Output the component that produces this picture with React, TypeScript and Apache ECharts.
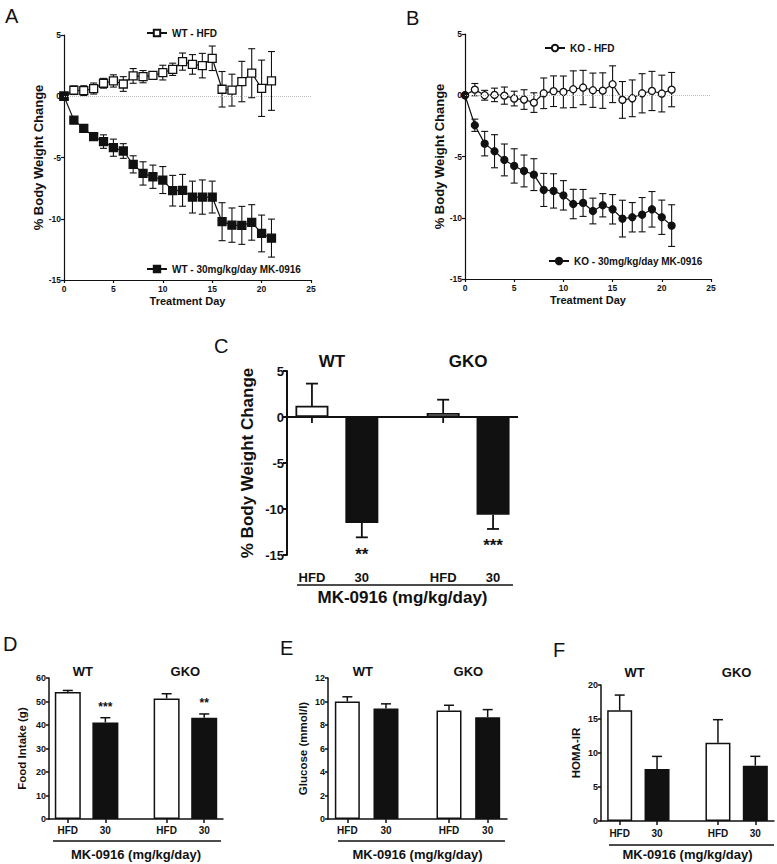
import React, { useEffect, useRef } from 'react';
import * as echarts from 'echarts';

// ---------- Data ----------
const days = [0, 1, 2, 3, 4, 5, 6, 7, 8, 9, 10, 11, 12, 13, 14, 15, 16, 17, 18, 19, 20, 21];

const wtHfd = [0, 0.49, 0.46, 0.63, 1.06, 1.25, 1.0, 1.66, 1.6, 1.7, 1.93, 2.2, 2.83, 2.6, 2.5, 3.1, 0.57, 0.5, 1.2, 1.88, 0.65, 1.25];
const wtHfdSem = [0, 0.35, 0.4, 0.45, 0.4, 0.5, 0.6, 0.6, 0.5, 0.3, 0.6, 0.5, 0.7, 0.8, 1.0, 1.0, 1.45, 1.3, 1.65, 2.0, 2.3, 2.4];
const wtMk = [0, -1.95, -2.62, -3.3, -3.7, -4.2, -4.47, -5.56, -6.3, -6.57, -6.84, -7.71, -7.68, -8.23, -8.23, -8.23, -10.24, -10.52, -10.54, -10.3, -11.2, -11.58];
const wtMkSem = [0, 0.15, 0.2, 0.3, 0.55, 0.7, 0.6, 0.7, 0.95, 0.95, 1.1, 1.25, 1.3, 1.3, 1.4, 1.3, 1.55, 1.4, 1.55, 1.45, 1.5, 1.55];

const koHfd = [0, 0.46, 0.0, 0.03, -0.03, -0.27, -0.35, -0.6, 0.16, 0.33, 0.27, 0.49, 0.63, 0.41, 0.38, 0.9, -0.38, -0.25, 0.16, 0.35, 0.14, 0.46];
const koHfdSem = [0, 0.5, 0.4, 0.55, 0.7, 0.6, 0.8, 0.8, 1.25, 1.25, 1.3, 1.5, 1.4, 1.4, 1.45, 1.5, 1.5, 1.5, 1.6, 1.6, 1.5, 1.4];
const koMk = [0, -2.45, -3.95, -4.57, -5.28, -5.77, -6.18, -6.48, -7.73, -7.81, -8.17, -8.88, -8.79, -9.45, -8.98, -9.31, -10.07, -9.96, -9.75, -9.31, -9.96, -10.64];
const koMkSem = [0, 0.5, 1.0, 1.35, 1.3, 1.4, 1.3, 1.3, 1.35, 1.4, 1.2, 1.2, 1.1, 1.05, 0.95, 1.2, 1.5, 1.2, 1.4, 1.45, 1.4, 1.7];

const groups = ['WT', 'GKO'];
const doses = ['HFD', '30'];

// C: % body weight change at day 21
const cHfd = [1.23, 0.43];
const cHfdSem = [2.4, 1.45];
const cHfdSemLow = [1.88, 1.08];
const cMk = [-11.52, -10.62];
const cMkSem = [1.56, 1.55];
const cSig = ['**', '***'];

// D: food intake (g)
const dHfd = [54.0, 51.3];
const dHfdSem = [0.7, 2.0];
const dMk = [41.1, 43.1];
const dMkSem = [2.0, 1.6];
const dSig = ['***', '**'];

// E: glucose (mmol/l)
const eHfd = [10.0, 9.23];
const eHfdSem = [0.4, 0.45];
const eMk = [9.4, 8.66];
const eMkSem = [0.4, 0.65];

// F: HOMA-IR
const fHfd = [16.27, 11.5];
const fHfdSem = [2.25, 3.4];
const fMk = [7.65, 8.14];
const fMkSem = [1.85, 1.37];

// axis ranges [min, max, interval]
const yRangeAB = [-15, 5, 5];
const xRangeAB = [0, 25, 5];
const yRangeC = [-15, 5, 5];
const yRangeD = [0, 60, 10];
const yRangeE = [0, 12, 2];
const yRangeF = [0, 20, 5];

// ---------- Layout / style ----------
const FONT = '"Liberation Sans", Arial, Helvetica, sans-serif';
const INK = '#111';
const GROUP_STEP = 2.63;
const X_MIN = -0.5;
const X_MAX = 4.13;
const barX = (g: number, d: number) => g * GROUP_STEP + d;
const barPositions = [barX(0, 0), barX(0, 1), barX(1, 0), barX(1, 1)];
const groupCenters = [barX(0, 0.4), barX(1, 0.5)];
const nearest = (arr: number[], v: number) => {
  let bi = 0;
  arr.forEach((a, i) => { if (Math.abs(a - v) < Math.abs(arr[bi] - v)) bi = i; });
  return bi;
};

const lineErrRender = (capHalf: number) => (params: any, api: any) => {
  const x = api.value(0), m = api.value(1), e = api.value(2);
  if (!e) return { type: 'group', children: [] };
  const top = api.coord([x, m + e]);
  const bot = api.coord([x, m - e]);
  const st = { stroke: INK, lineWidth: 1.1 };
  return {
    type: 'group',
    children: [
      { type: 'line', shape: { x1: top[0], y1: top[1], x2: bot[0], y2: bot[1] }, style: st },
      { type: 'line', shape: { x1: top[0] - capHalf, y1: top[1], x2: top[0] + capHalf, y2: top[1] }, style: st },
      { type: 'line', shape: { x1: bot[0] - capHalf, y1: bot[1], x2: bot[0] + capHalf, y2: bot[1] }, style: st },
    ],
  };
};

const barErrRender = (sigs: string[], capHalf: number, lw: number, starOffset: number, starSize: number) =>
  (params: any, api: any) => {
    const x = api.value(0), m = api.value(1), eo = api.value(2), ei = api.value(3);
    const sgn = m >= 0 ? 1 : -1;
    const end = api.coord([x, m + sgn * eo]);
    const start = api.coord([x, m - sgn * ei]);
    const st = { stroke: INK, lineWidth: lw };
    const children: any[] = [
      { type: 'line', shape: { x1: start[0], y1: start[1], x2: end[0], y2: end[1] }, style: st },
      { type: 'line', shape: { x1: end[0] - capHalf, y1: end[1], x2: end[0] + capHalf, y2: end[1] }, style: st },
    ];
    const s = sigs[params.dataIndex];
    if (s) {
      children.push({
        type: 'text',
        x: end[0],
        y: end[1] - sgn * starOffset,
        style: { text: s, fill: INK, fontSize: starSize, fontWeight: 'bold', fontFamily: FONT, align: 'center', verticalAlign: 'middle' },
      });
    }
    return { type: 'group', children };
  };

function lineSeries(name: string, vals: number[], xi: number, symbol: string, size: number, filled: boolean, zeroLine: boolean) {
  const s: any = {
    type: 'line', name, xAxisIndex: xi, yAxisIndex: xi,
    data: days.map((d, i) => [d, vals[i]]),
    symbol, symbolSize: size, showSymbol: true, showAllSymbol: true,
    lineStyle: { color: INK, width: 1.2 },
    itemStyle: { color: filled ? INK : '#fff', borderColor: INK, borderWidth: 1.3 },
    z: 3,
  };
  if (zeroLine) {
    s.markLine = {
      silent: true, symbol: 'none', label: { show: false },
      lineStyle: { color: '#bdbdbd', type: 'dotted', width: 1 },
      data: [{ yAxis: 0 }],
    };
  }
  return s;
}

function lineErr(vals: number[], sems: number[], xi: number) {
  return {
    type: 'custom', xAxisIndex: xi, yAxisIndex: xi, z: 1, silent: true,
    renderItem: lineErrRender(3.5),
    data: days.map((d, i) => [d, vals[i], sems[i]]),
  };
}

function barSeries(xi: number, yi: number, hfd: number[], mk: number[], width: number, lw: number, zeroLine: boolean) {
  const data: any[] = [];
  groups.forEach((g, gi) => {
    data.push({ value: [barX(gi, 0), hfd[gi]], itemStyle: { color: '#fff', borderColor: INK, borderWidth: lw } });
    data.push({ value: [barX(gi, 1), mk[gi]], itemStyle: { color: INK, borderColor: INK, borderWidth: lw } });
  });
  const s: any = { type: 'bar', xAxisIndex: xi, yAxisIndex: yi, barWidth: width, data, z: 3, silent: true };
  if (zeroLine) {
    s.markLine = {
      silent: true, symbol: 'none', label: { show: false },
      lineStyle: { color: INK, type: 'solid', width: 2 },
      data: [{ yAxis: 0 }],
    };
  }
  return s;
}

function barErr(xi: number, yi: number, hfd: number[], hfdSem: number[], hfdLow: number[], mk: number[], mkSem: number[], sig: string[],
  capHalf: number, lw: number, starOffset: number, starSize: number) {
  const data: any[] = [];
  const sigs: string[] = [];
  groups.forEach((g, gi) => {
    data.push([barX(gi, 0), hfd[gi], hfdSem[gi], hfdLow[gi]]);
    sigs.push('');
    data.push([barX(gi, 1), mk[gi], mkSem[gi], 0]);
    sigs.push(sig[gi] || '');
  });
  return {
    type: 'custom', xAxisIndex: xi, yAxisIndex: yi, z: 1, silent: true,
    renderItem: barErrRender(sigs, capHalf, lw, starOffset, starSize),
    data,
  };
}

const txt = (fs: number, bold = true) => ({ fontSize: fs, fontWeight: bold ? 'bold' : 'normal', color: INK, fontFamily: FONT });

function yAxis(gridIndex: number, r: number[], name: string, fs: number, nameFs: number, nameGap: number, lw: number, tickLen: number) {
  return {
    type: 'value', gridIndex, min: r[0], max: r[1], interval: r[2],
    name, nameLocation: 'middle', nameGap, nameRotate: 90, nameTextStyle: txt(nameFs),
    axisLine: { show: true, onZero: false, lineStyle: { color: INK, width: lw } },
    axisTick: { show: true, length: tickLen, lineStyle: { color: INK, width: lw } },
    axisLabel: { ...txt(fs), margin: 3 },
    splitLine: { show: false },
  };
}

function xAxisAB(gridIndex: number) {
  return {
    type: 'value', gridIndex, min: xRangeAB[0], max: xRangeAB[1], interval: xRangeAB[2],
    name: 'Treatment Day', nameLocation: 'middle', nameGap: 15, nameTextStyle: txt(11),
    axisLine: { show: true, onZero: false, lineStyle: { color: INK, width: 1.2 } },
    axisTick: { show: true, length: 3, lineStyle: { color: INK, width: 1.2 } },
    axisLabel: { ...txt(8.5), margin: 4 },
    splitLine: { show: false },
  };
}

function xAxisBarBottom(gridIndex: number, showLine: boolean, fs: number, margin: number, nameFs: number, nameGap: number, lw: number) {
  return {
    type: 'value', gridIndex, min: X_MIN, max: X_MAX, position: 'bottom',
    name: 'MK-0916 (mg/kg/day)', nameLocation: 'middle', nameGap, nameTextStyle: txt(nameFs),
    axisLine: { show: showLine, onZero: false, lineStyle: { color: INK, width: lw } },
    axisTick: { show: showLine, customValues: barPositions, length: 4, lineStyle: { color: INK, width: lw } },
    axisLabel: {
      ...txt(fs), margin, customValues: barPositions,
      formatter: (v: number) => doses[nearest(barPositions, v) % 2],
    },
    splitLine: { show: false },
  };
}

function xAxisBarTop(gridIndex: number, fs: number, margin: number) {
  return {
    type: 'value', gridIndex, min: X_MIN, max: X_MAX, position: 'top',
    axisLine: { show: false }, axisTick: { show: false },
    axisLabel: {
      ...txt(fs), margin, customValues: groupCenters,
      formatter: (v: number) => groups[nearest(groupCenters, v)],
    },
    splitLine: { show: false },
  };
}

function legend(name: string, left: number, top: number) {
  return {
    data: [name], left, top, padding: 0, itemWidth: 20, itemHeight: 8, itemGap: 4,
    selectedMode: false, textStyle: { ...txt(10) },
  };
}

const letter = (t: string, x: number, y: number) => ({
  type: 'text', x, y, style: { text: t, fill: INK, fontSize: 20, fontFamily: FONT, fontWeight: 'normal' },
});
const rule = (x1: number, x2: number, y: number) => ({
  type: 'line', shape: { x1, y1: y, x2, y2: y }, style: { stroke: INK, lineWidth: 1.5 },
});

export default function App() {
  const ref = useRef<HTMLDivElement>(null);
  useEffect(() => {
    if (!ref.current) return;
    const chart = echarts.init(ref.current, undefined, { renderer: 'svg' });
    const option: any = {
      animation: false,
      backgroundColor: '#fff',
      grid: [
        { left: 64, top: 35, width: 247, height: 245 },
        { left: 465, top: 34, width: 246, height: 245 },
        { left: 287, top: 371, width: 231, height: 184 },
        { left: 49, top: 678, width: 174, height: 141 },
        { left: 328, top: 678, width: 179, height: 141 },
        { left: 601, top: 685, width: 173, height: 136 },
      ],
      xAxis: [
        xAxisAB(0),
        xAxisAB(1),
        xAxisBarBottom(2, false, 13, 16, 17, 34, 2),
        xAxisBarTop(2, 17, 1),
        xAxisBarBottom(3, true, 10, 6, 13, 29, 1.5),
        xAxisBarTop(3, 13, 0),
        xAxisBarBottom(4, true, 10, 6, 13, 29, 1.5),
        xAxisBarTop(4, 13, 0),
        xAxisBarBottom(5, true, 10, 7, 13, 27, 1.5),
        xAxisBarTop(5, 13, 6),
      ],
      yAxis: [
        yAxis(0, yRangeAB, '% Body Weight Change', 8.5, 13, 19, 1.2, 3),
        yAxis(1, yRangeAB, '% Body Weight Change', 8.5, 13, 18, 1.2, 3),
        yAxis(2, yRangeC, '% Body Weight Change', 13, 17, 31, 2, 4),
        yAxis(3, yRangeD, 'Food Intake (g)', 9, 11.5, 21, 1.5, 3),
        yAxis(4, yRangeE, 'Glucose (mmol/l)', 9, 11.5, 19, 1.5, 3),
        yAxis(5, yRangeF, 'HOMA-IR', 9, 11.5, 19, 1.5, 3),
      ],
      legend: [
        legend('WT - HFD', 146, 28),
        legend('WT - 30mg/kg/day MK-0916', 146, 264),
        legend('KO - HFD', 544, 43),
        legend('KO - 30mg/kg/day MK-0916', 548, 256),
      ],
      series: [
        lineErr(wtHfd, wtHfdSem, 0),
        lineErr(wtMk, wtMkSem, 0),
        lineSeries('WT - HFD', wtHfd, 0, 'rect', 8, false, true),
        lineSeries('WT - 30mg/kg/day MK-0916', wtMk, 0, 'rect', 8, true, false),
        lineErr(koHfd, koHfdSem, 1),
        lineErr(koMk, koMkSem, 1),
        lineSeries('KO - HFD', koHfd, 1, 'circle', 7, false, true),
        lineSeries('KO - 30mg/kg/day MK-0916', koMk, 1, 'circle', 7, true, false),

        barSeries(2, 2, cHfd, cMk, 33, 1.8, true),
        barErr(2, 2, cHfd, cHfdSem, cHfdSemLow, cMk, cMkSem, cSig, 6, 1.8, 17, 17),

        barSeries(4, 3, dHfd, dMk, 26, 1.5, false),
        barErr(4, 3, dHfd, dHfdSem, [0, 0], dMk, dMkSem, dSig, 5, 1.5, 11, 12),

        barSeries(6, 4, eHfd, eMk, 25, 1.5, false),
        barErr(6, 4, eHfd, eHfdSem, [0, 0], eMk, eMkSem, [], 5, 1.5, 11, 12),

        barSeries(8, 5, fHfd, fMk, 25, 1.5, false),
        barErr(8, 5, fHfd, fHfdSem, [0, 0], fMk, fMkSem, [], 5, 1.5, 11, 12),
      ],
      graphic: [
        letter('A', 5, 6),
        letter('B', 406, 8),
        letter('C', 214, 336),
        letter('D', 3, 634),
        letter('E', 280, 638),
        letter('F', 553, 640),
        rule(297, 513, 585),
        rule(53, 221, 841),
        rule(338, 505, 841),
        rule(609, 774, 845),
      ],
    };
    chart.setOption(option);
    return () => chart.dispose();
  }, []);
  return (
    <div
      ref={ref}
      style={{ position: 'absolute', left: 0, top: 0, width: 777, height: 864, background: '#fff' }}
    />
  );
}
